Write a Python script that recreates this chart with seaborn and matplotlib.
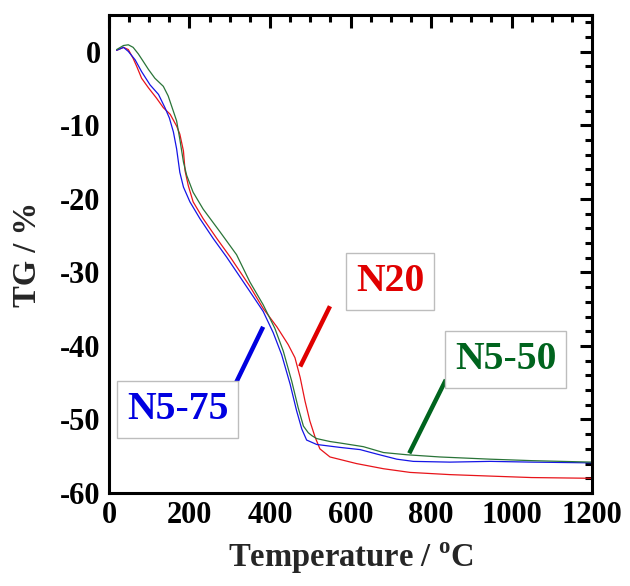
import numpy as np
import pandas as pd
import matplotlib
matplotlib.use("Agg")
import matplotlib.pyplot as plt
from matplotlib.ticker import MultipleLocator
import seaborn as sns

# ---------------- data ----------------
n20_T = [19, 36, 48, 60, 69, 81, 98, 118, 135, 152, 168, 176, 185, 189, 197, 209, 234,
         268, 301, 350, 383, 417, 445, 462, 475, 487, 499, 512, 524, 549, 615, 682, 748,
         847, 947, 1050, 1200]
n20_TG = [0.2, 0.6, 0.3, -0.9, -2.0, -3.6, -4.9, -6.3, -7.6, -8.5, -10.1, -11.2, -13.5,
          -16.2, -18.2, -20.4, -22.7, -25.4, -27.9, -31.9, -34.9, -37.4, -39.8, -41.6,
          -44.3, -47.5, -50.2, -52.4, -54.0, -55.1, -56.0, -56.7, -57.2, -57.5, -57.7,
          -57.9, -58.0]

n575_T = [19, 36, 48, 65, 81, 102, 123, 139, 150, 160, 168, 176, 185, 201, 226, 259, 292,
          350, 383, 408, 429, 450, 466, 479, 491, 516, 574, 624, 665, 715, 756, 847, 947,
          1050, 1200]
n575_TG = [0.2, 0.6, 0.05, -1.1, -2.7, -4.5, -5.8, -7.6, -9.0, -10.9, -13.2, -16.4, -18.4,
           -20.4, -22.7, -25.4, -27.9, -32.6, -35.3, -38.2, -41.2, -45.2, -48.8, -51.3,
           -52.8, -53.4, -53.8, -54.1, -54.7, -55.4, -55.7, -55.8, -55.7, -55.8, -55.9]

n550_T = [19, 36, 48, 60, 73, 85, 98, 114, 135, 147, 160, 168, 176, 185, 193, 209, 234,
          276, 317, 350, 383, 412, 433, 454, 470, 483, 495, 504, 516, 549, 574, 632, 682,
          740, 822, 947, 1050, 1200]
n550_TG = [0.3, 0.85, 0.95, 0.6, -0.3, -1.3, -2.4, -3.6, -4.7, -6.0, -8.1, -9.4, -11.9,
           -15.0, -16.8, -19.1, -21.4, -24.5, -27.6, -31.3, -34.4, -37.6, -40.7, -44.8,
           -48.4, -50.9, -51.8, -52.2, -52.6, -53.0, -53.2, -53.7, -54.5, -54.8, -55.1,
           -55.4, -55.6, -55.8]

series_names = ["N20", "N5-75", "N5-50"]
x_ticks = [0, 200, 400, 600, 800, 1000, 1200]
y_ticks = [-60, -50, -40, -30, -20, -10, 0]

df = pd.concat([
    pd.DataFrame({"T": n20_T, "TG": n20_TG, "sample": "N20"}),
    pd.DataFrame({"T": n575_T, "TG": n575_TG, "sample": "N5-75"}),
    pd.DataFrame({"T": n550_T, "TG": n550_TG, "sample": "N5-50"}),
], ignore_index=True)

# ---------------- style ----------------
sns.set_style("white")
plt.rcParams["font.family"] = ["Liberation Serif", "DejaVu Serif"]
plt.rcParams["font.weight"] = "bold"
plt.rcParams["axes.unicode_minus"] = False
plt.rcParams["mathtext.fontset"] = "custom"
plt.rcParams["mathtext.rm"] = "Liberation Serif:bold"
plt.rcParams["mathtext.bf"] = "Liberation Serif:bold"

line_colors = {"N20": "#e8141a", "N5-75": "#1515e6", "N5-50": "#2a7438"}
text_colors = {"N20": "#e00000", "N5-75": "#0000e0", "N5-50": "#00641e"}

fig = plt.figure(figsize=(6.3, 5.86), dpi=100)
ax = fig.add_axes([0.173, 0.1587, 0.7667, 0.8157])

sns.lineplot(data=df, x="T", y="TG", hue="sample", hue_order=series_names,
             palette=line_colors, sort=False, estimator=None, units="sample",
             linewidth=0.9, legend=False, ax=ax)

ax.set_xlim(0, 1200)
ax.set_ylim(-60, 5)
ax.set_xticks(x_ticks)
ax.set_yticks(y_ticks)
ax.xaxis.set_minor_locator(MultipleLocator(50))
ax.yaxis.set_minor_locator(MultipleLocator(2))
ax.tick_params(which="both", direction="in", top=True, right=True, width=2.2,
               colors="black")
ax.tick_params(which="major", length=9, labelsize=22, pad=6)
ax.tick_params(which="minor", length=5)
for lab in ax.get_xticklabels() + ax.get_yticklabels():
    lab.set_fontweight("bold")
for sp in ax.spines.values():
    sp.set_linewidth(2.2)
    sp.set_color("black")

ax.set_xlabel(r"Temperature / $^{\mathrm{o}}$C", fontsize=23.5, fontweight="bold", labelpad=7)
ax.set_ylabel("TG / %", fontsize=23.5, fontweight="bold", labelpad=12)

# ---------------- annotations (layout) ----------------
box = dict(boxstyle="square,pad=0.25", facecolor="white", edgecolor="#bdbdbd", linewidth=1)
labels_layout = {
    # name: (text position in data coords, leader start, leader end)
    "N20": ((698, -31.2), (549, -34.6), (475, -42.8)),
    "N5-75": ((171, -48.6), (313, -45.3), (383, -37.4)),
    "N5-50": ((986, -41.8), (837, -44.6), (746, -54.6)),
}
for name, (tpos, p0, p1) in labels_layout.items():
    ax.plot([p0[0], p1[0]], [p0[1], p1[1]], color=text_colors[name], linewidth=3.2,
            solid_capstyle="butt")
    ax.text(tpos[0], tpos[1], name, color=text_colors[name], fontsize=28.5,
            fontweight="bold", ha="center", va="center", bbox=box, zorder=5)

fig.savefig("out.png", dpi=100)
